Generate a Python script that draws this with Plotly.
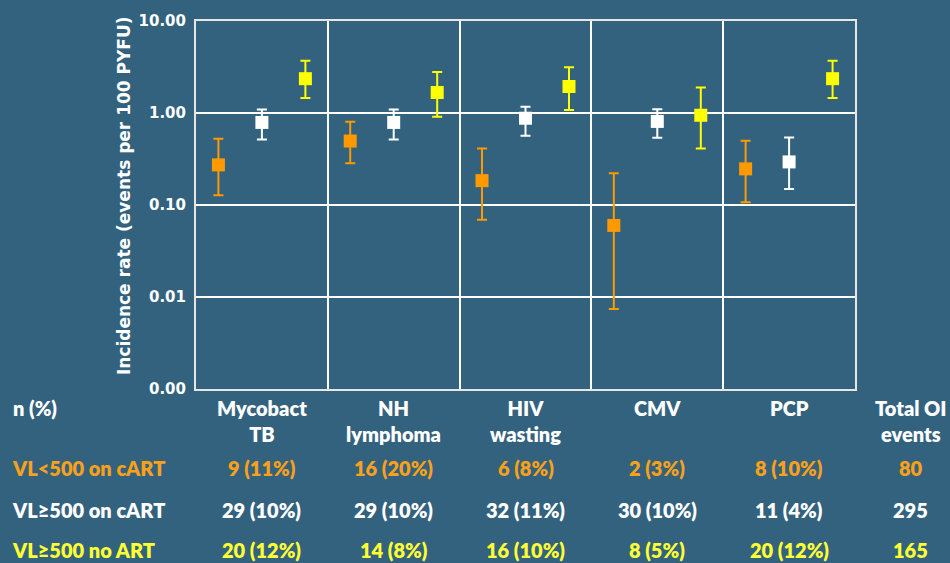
import plotly.graph_objects as go

categories = ["Mycobact TB", "NH lymphoma", "HIV wasting", "CMV", "PCP"]
header_labels = ["Mycobact<br>TB", "NH<br>lymphoma", "HIV<br>wasting", "CMV", "PCP"]

series_names = ["VL<500 on cART", "VL≥500 on cART", "VL≥500 no ART"]
rate_low = [0.273, 0.496, 0.184, 0.060, 0.247]
rate_low_hi = [0.525, 0.805, 0.412, 0.222, 0.50]
rate_low_lo = [0.128, 0.284, 0.069, 0.0074, 0.107]

rate_mid = [0.79, 0.79, 0.877, 0.81, 0.294]
rate_mid_hi = [1.09, 1.09, 1.17, 1.10, 0.542]
rate_mid_lo = [0.515, 0.515, 0.565, 0.538, 0.149]

rate_high = [2.36, 1.67, 1.94, 0.945, 2.36]
rate_high_hi = [3.70, 2.79, 3.15, 1.89, 3.70]
rate_high_lo = [1.46, 0.913, 1.08, 0.412, 1.46]

n_low = ["9 (11%)", "16 (20%)", "6 (8%)", "2 (3%)", "8 (10%)"]
n_mid = ["29 (10%)", "29 (10%)", "32 (11%)", "30 (10%)", "11 (4%)"]
n_high = ["20 (12%)", "14 (8%)", "16 (10%)", "8 (5%)", "20 (12%)"]
totals = ["80", "295", "165"]

tick_vals = [0.001, 0.01, 0.1, 1, 10]
tick_text = ["0.00", "0.01", "0.10", "1.00", "10.00"]
y_title = "Incidence rate (events per 100 PYFU)"

colors = ["#FF9900", "#FFFFFF", "#FFFF00"]
text_colors = ["#F9A11B", "#FFFFFF", "#FFFF33"]
BG = "#33627F"

fig = go.Figure()
for name, vals, hi, lo, col in [
    (series_names[0], rate_low, rate_low_hi, rate_low_lo, colors[0]),
    (series_names[1], rate_mid, rate_mid_hi, rate_mid_lo, colors[1]),
    (series_names[2], rate_high, rate_high_hi, rate_high_lo, colors[2]),
]:
    fig.add_trace(go.Scatter(
        x=categories, y=vals, name=name, mode="markers",
        marker=dict(symbol="square", size=13, color=col),
        error_y=dict(type="data", symmetric=False,
                     array=[h - v for h, v in zip(hi, vals)],
                     arrayminus=[v - l for v, l in zip(vals, lo)],
                     color=col, thickness=2, width=5),
        showlegend=False,
    ))

L, R, T, B = 196, 95, 17, 174
W, H = 950, 563
pw, ph = W - L - R, H - T - B

def py(y):
    return (H - B - y) / ph

def px(x):
    return (x - L) / pw

font_family = "Lato, Open Sans, sans-serif"
FS = 20
WT = 800
ann = []
ann.append(dict(x=px(124), y=py(194), xref="paper", yref="paper", text=y_title,
                textangle=-90, xanchor="center", yanchor="middle", showarrow=False,
                font=dict(family="DejaVu Sans", size=17, color="white", weight="bold")))
ann.append(dict(x=px(11), y=py(408), xref="paper", yref="paper", text="n (%)",
                xanchor="left", yanchor="middle", showarrow=False,
                font=dict(family=font_family, size=FS, color="white", weight=WT)))
for cat, lab in zip(categories, header_labels):
    ann.append(dict(x=cat, y=py(394), xref="x", yref="paper", text=lab,
                    xanchor="center", yanchor="top", showarrow=False, align="center",
                    font=dict(family=font_family, size=FS, color="white", weight=WT)))
ann.append(dict(x=px(911), y=py(394), xref="paper", yref="paper", text="Total OI<br>events",
                xanchor="center", yanchor="top", showarrow=False, align="center",
                font=dict(family=font_family, size=FS, color="white", weight=WT)))
row_y = [469, 511, 552]
for rname, rvals, tot, ry, tc in zip(series_names, [n_low, n_mid, n_high], totals, row_y, text_colors):
    ann.append(dict(x=px(10), y=py(ry), xref="paper", yref="paper", text=rname,
                    xanchor="left", yanchor="middle", showarrow=False,
                    font=dict(family=font_family, size=FS, color=tc, weight=WT)))
    for cat, v in zip(categories, rvals):
        ann.append(dict(x=cat, y=py(ry), xref="x", yref="paper", text=v,
                        xanchor="center", yanchor="middle", showarrow=False,
                        font=dict(family=font_family, size=FS, color=tc, weight=WT)))
    ann.append(dict(x=px(911), y=py(ry), xref="paper", yref="paper", text=tot,
                    xanchor="center", yanchor="middle", showarrow=False,
                    font=dict(family=font_family, size=FS, color=tc, weight=WT)))

fig.update_layout(
    width=W, height=H,
    margin=dict(l=L, r=R, t=T, b=B, pad=0),
    paper_bgcolor=BG, plot_bgcolor=BG,
    scattermode="group", scattergap=0.01,
    annotations=ann,
    xaxis=dict(type="category", tickson="boundaries", showgrid=True,
               gridcolor="white", gridwidth=1.5, showticklabels=False, ticks="",
               showline=True, linecolor="#E6E6E6", linewidth=2, mirror=True,
               zeroline=False, range=[-0.5, 4.5]),
    yaxis=dict(type="log", range=[-3, 1], tickvals=tick_vals, ticktext=tick_text,
               showgrid=True, gridcolor="white", gridwidth=1.5,
               showline=True, linecolor="#E6E6E6", linewidth=2, mirror=True,
               ticks="", ticklen=0, ticklabelstandoff=5,
               tickfont=dict(family="DejaVu Sans", size=15, color="white", weight="bold")),
)

fig.write_html("out.html", config={"displayModeBar": False, "responsive": False})

with open("out.html", "r", encoding="utf-8") as f:
    html = f.read()
html = html.replace("<head>", "<head><style>html,body{margin:0;padding:0;overflow:hidden;background:%s;}</style>" % BG, 1)
with open("out.html", "w", encoding="utf-8") as f:
    f.write(html)
